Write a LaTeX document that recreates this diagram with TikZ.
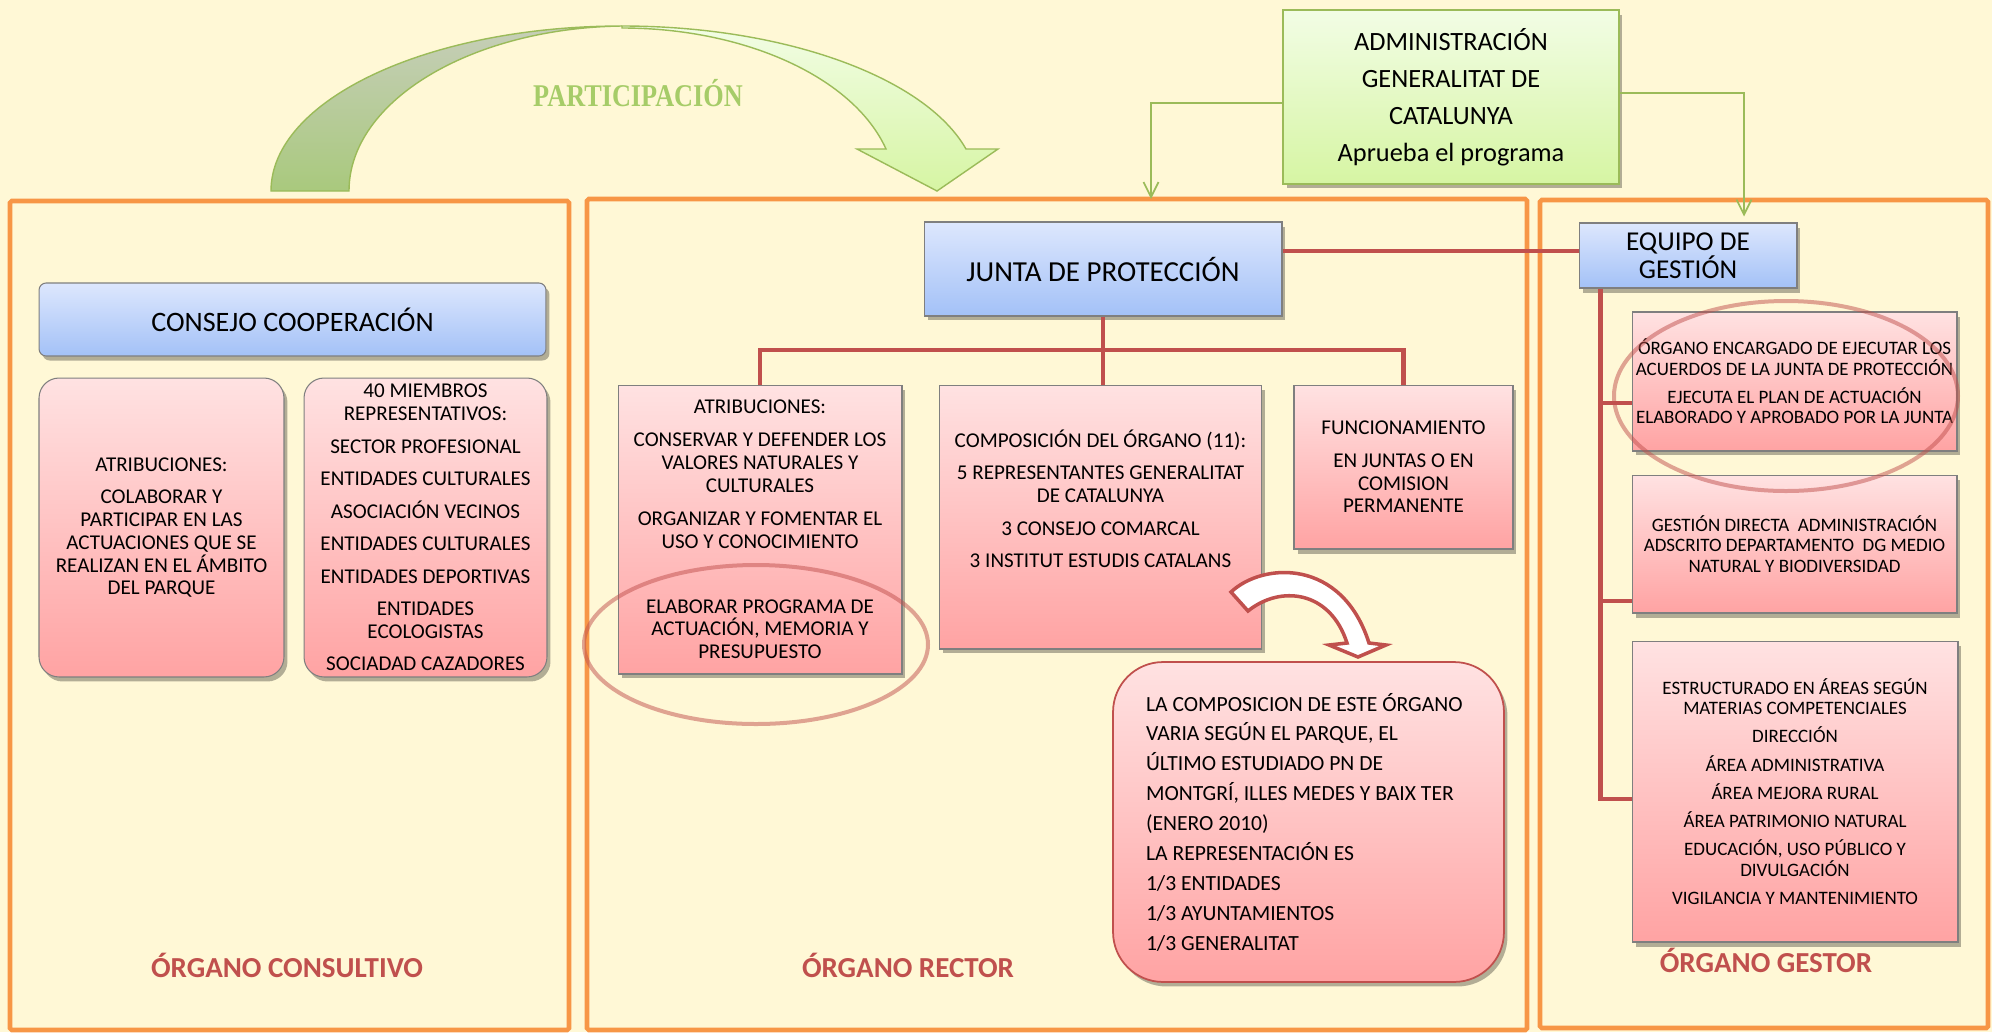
\documentclass[tikz,border=0pt]{standalone}
\usepackage{fontspec}
\setmainfont{Carlito}
\newfontfamily\partfont{Liberation Serif}
\usetikzlibrary{arrows.meta,positioning,shadows}
\definecolor{pnCream}{HTML}{FFF8D6}
\definecolor{pnOrange}{HTML}{F79646}
\definecolor{pnRed}{HTML}{C0504D}
\definecolor{pnEdge}{HTML}{7F7F7F}
\definecolor{pnBlueTop}{HTML}{DDE7FD}
\definecolor{pnBlueBot}{HTML}{A3C1F7}
\definecolor{pnPinkTop}{HTML}{FFE2E2}
\definecolor{pnPinkBot}{HTML}{FFA3A3}
\definecolor{pnGreen}{HTML}{9BBB59}
\definecolor{pnGreenTop}{HTML}{F2FDE5}
\definecolor{pnGreenBot}{HTML}{D6F5A3}
\definecolor{pnBackTop}{HTML}{C6CEB9}
\definecolor{pnBackBot}{HTML}{A9C97D}
\definecolor{pnText}{HTML}{A6CC68}
\tikzset{
  panel/.style={draw=pnOrange, line width=2.6pt, rounded corners=1pt},
  boxshadow/.style={drop shadow={shadow xshift=0.07cm, shadow yshift=-0.09cm, opacity=0.3, fill=black}},
  bluebox/.style={draw=pnEdge, line width=0.6pt, top color=pnBlueTop, bottom color=pnBlueBot, boxshadow, align=center, inner sep=2pt},
  pinkbox/.style={draw=pnEdge, line width=0.6pt, top color=pnPinkTop, bottom color=pnPinkBot, boxshadow, align=center, inner sep=2pt, font=\fontsize{12}{13}\selectfont},
  gbox/.style={pinkbox, font=\fontsize{10.8}{11.6}\selectfont},
  adminbox/.style={draw=pnGreen, line width=1pt, top color=pnGreenTop, bottom color=pnGreenBot, boxshadow, align=center, font=\fontsize{15}{21}\selectfont},
  notebox/.style={pinkbox, draw=pnRed, line width=1pt, rounded corners=1cm, align=flush left, font=\fontsize{12.3}{17}\selectfont},
  link/.style={draw=pnRed, line width=2.6pt},
  feed/.style={draw=pnGreen, line width=1pt, -{Straight Barb[length=0.3cm,width=0.3cm]}},
  ring/.style={draw=pnRed, draw opacity=0.5, line width=0.08cm},
  organ/.style={text=pnRed, font=\bfseries\fontsize{16.5}{18}\selectfont},
}

\begin{document}
\begin{tikzpicture}[x=0.02cm, y=-0.02cm]
  \path[use as bounding box] (0,0) rectangle (1992,1032);
  \fill[pnCream] (0,0) rectangle (1992,1032);

  % the three organs
  \draw[panel] (10,201) rectangle (569,1030);
  \draw[panel] (587,199) rectangle (1527,1030);
  \draw[panel] (1540,200) rectangle (1988,1028);

  % participation arrow
  \path[draw=pnGreen, line width=0.8pt, top color=pnBackTop, bottom color=pnBackBot]
    (271,191) .. controls (271,100) and (428,26) .. (622,26)
    .. controls (471,28) and (349,101) .. (349,191) -- cycle;
  \path[draw=pnGreen, line width=0.8pt, top color=pnGreenTop, bottom color=pnGreenBot]
    (622,26) .. controls (784,26) and (925,77) .. (966,149)
    -- (998,149) -- (937,191) -- (857,149) -- (886,149)
    .. controls (854,78) and (746,28) .. (622,28) -- cycle;
  \node[text=pnText, font=\partfont\bfseries\fontsize{18}{20}\selectfont, xscale=0.83] (part) at (638,93) {PARTICIPACIÓN};

  % organo consultivo
  \node[bluebox, rounded corners=4pt, minimum width=10.14cm, minimum height=1.46cm, font=\fontsize{16}{19}\selectfont] (consejo) at (292.5,319.5) {CONSEJO COOPERACIÓN};
  \node[pinkbox, rounded corners=0.4cm, minimum width=4.9cm, minimum height=5.98cm] (atribC) at (161.5,527.5)
    {ATRIBUCIONES:\\[5.5pt]COLABORAR Y\\PARTICIPAR EN LAS\\ACTUACIONES QUE SE\\REALIZAN EN EL ÁMBITO\\DEL PARQUE};
  \node[pinkbox, rounded corners=0.4cm, minimum width=4.86cm, minimum height=5.98cm, right=0.38cm of atribC] (miembros)
    {40 MIEMBROS\\REPRESENTATIVOS:\\[5.5pt]SECTOR PROFESIONAL\\[5.5pt]ENTIDADES CULTURALES\\[5.5pt]ASOCIACIÓN VECINOS\\[5.5pt]ENTIDADES CULTURALES\\[5.5pt]ENTIDADES DEPORTIVAS\\[5.5pt]ENTIDADES\\ECOLOGISTAS\\[5.5pt]SOCIADAD CAZADORES};
  \node[organ] (consultivo) at (287,965) {ÓRGANO CONSULTIVO};

  % organo rector
  \node[adminbox, minimum width=6.72cm, minimum height=3.48cm] (admin) at (1451,97)
    {ADMINISTRACIÓN\\GENERALITAT DE\\CATALUNYA\\Aprueba el programa};
  \node[bluebox, minimum width=7.16cm, minimum height=1.88cm, font=\fontsize{16.5}{20}\selectfont] (junta) at (1103,269) {JUNTA DE PROTECCIÓN};
  \node[pinkbox, minimum width=5.68cm, minimum height=5.78cm] (atribJ) at (760,529.5)
    {ATRIBUCIONES:\\[5.7pt]CONSERVAR Y DEFENDER LOS\\VALORES NATURALES Y\\CULTURALES\\[5.7pt]ORGANIZAR Y FOMENTAR EL\\USO Y CONOCIMIENTO\\[24pt]ELABORAR PROGRAMA DE\\ACTUACIÓN, MEMORIA Y\\PRESUPUESTO};
  \node[pinkbox, minimum width=6.46cm, minimum height=5.28cm, right=0.72cm of atribJ.north east, anchor=north west] (compos)
    {COMPOSICIÓN DEL ÓRGANO (11):\\[5.5pt]5 REPRESENTANTES GENERALITAT\\DE CATALUNYA\\[5.5pt]3 CONSEJO COMARCAL\\[5.5pt]3 INSTITUT ESTUDIS CATALANS\\[8pt]\mbox{}};
  \node[pinkbox, minimum width=4.38cm, minimum height=3.28cm, right=0.62cm of compos.north east, anchor=north west] (funcion)
    {FUNCIONAMIENTO\\[5.5pt]EN JUNTAS O EN\\COMISION\\PERMANENTE};
  \node[notebox, minimum width=7.82cm, minimum height=6.4cm, text width=6.5cm, inner xsep=0.66cm] (nota) at (1308.5,822)
    {LA COMPOSICION DE ESTE ÓRGANO\\VARIA SEGÚN EL PARQUE, EL\\ÚLTIMO ESTUDIADO PN DE\\MONTGRÍ, ILLES MEDES Y BAIX TER\\(ENERO 2010)\\LA REPRESENTACIÓN ES\\1/3 ENTIDADES\\1/3 AYUNTAMIENTOS\\1/3 GENERALITAT};
  \node[organ] (rector) at (908,965) {ÓRGANO RECTOR};

  % organo gestor
  \node[bluebox, minimum width=4.36cm, minimum height=1.3cm, font=\fontsize{15.5}{16}\selectfont] (equipo) at (1688,255.5) {EQUIPO DE\\GESTIÓN};
  \node[gbox, minimum width=6.5cm, minimum height=2.78cm] (gest1) at (1794.5,381.5)
    {ÓRGANO ENCARGADO DE EJECUTAR LOS\\ACUERDOS DE LA JUNTA DE PROTECCIÓN\\[4.5pt]EJECUTA EL PLAN DE ACTUACIÓN\\ELABORADO Y APROBADO POR LA JUNTA};
  \node[gbox, minimum width=6.5cm, minimum height=2.76cm, below=0.46cm of gest1.south west, anchor=north west] (gest2)
    {GESTIÓN DIRECTA\ \ ADMINISTRACIÓN\\ADSCRITO DEPARTAMENTO\ \ DG MEDIO\\NATURAL Y BIODIVERSIDAD};
  \node[gbox, minimum width=6.52cm, minimum height=6.02cm, below=0.54cm of gest2.south west, anchor=north west] (gest3)
    {ESTRUCTURADO EN ÁREAS SEGÚN\\MATERIAS COMPETENCIALES\\[4.5pt]DIRECCIÓN\\[4.5pt]ÁREA ADMINISTRATIVA\\[4.5pt]ÁREA MEJORA RURAL\\[4.5pt]ÁREA PATRIMONIO NATURAL\\[4.5pt]EDUCACIÓN, USO PÚBLICO Y\\DIVULGACIÓN\\[4.5pt]VIGILANCIA Y MANTENIMIENTO};
  \node[organ] (gestor) at (1766,960) {ÓRGANO GESTOR};

  % connectors
  \coordinate (fork) at (junta.south |- 0,350);
  \coordinate (intoRector) at (1151,199);
  \coordinate (g0) at ([yshift=0.09cm]equipo.west);
  \coordinate (spine) at ([xshift=0.44cm]equipo.south west);
  \coordinate (g1) at ([yshift=-0.43cm]gest1.west);
  \coordinate (g2) at ([yshift=-1.14cm]gest2.west);
  \coordinate (g3) at ([yshift=-0.15cm]gest3.west);
  \draw[link] (junta.east |- g0) -- (g0);
  \draw[link] (junta) -- (fork);
  \draw[link] (atribJ.north) |- (fork) -| (funcion.north);
  \draw[link] (fork) -- (fork |- compos.north);
  \draw[link] (spine) |- (g3);
  \draw[link] (spine |- g1) -- (g1);
  \draw[link] (spine |- g2) -- (g2);
  \draw[feed] ([yshift=-0.12cm]admin.west) -| (intoRector);
  \draw[feed] ([yshift=0.08cm]admin.east) -| ([xshift=1.12cm, yshift=0.12cm]equipo.north);

  % highlights
  \draw[ring] (756,644.5) ellipse [x radius=172, y radius=79.5];
  \draw[ring] (1786,396) ellipse [x radius=172, y radius=95];

  % block arrow to the note
  \path[draw=pnRed, line width=2pt, fill=white]
    (1231,592) .. controls (1263,562) and (1342,558) .. (1369,643)
    -- (1386,645) -- (1358,657) -- (1329,645) -- (1347,643)
    .. controls (1330,590) and (1280,585) .. (1248,611) -- cycle;
\end{tikzpicture}
\end{document}
